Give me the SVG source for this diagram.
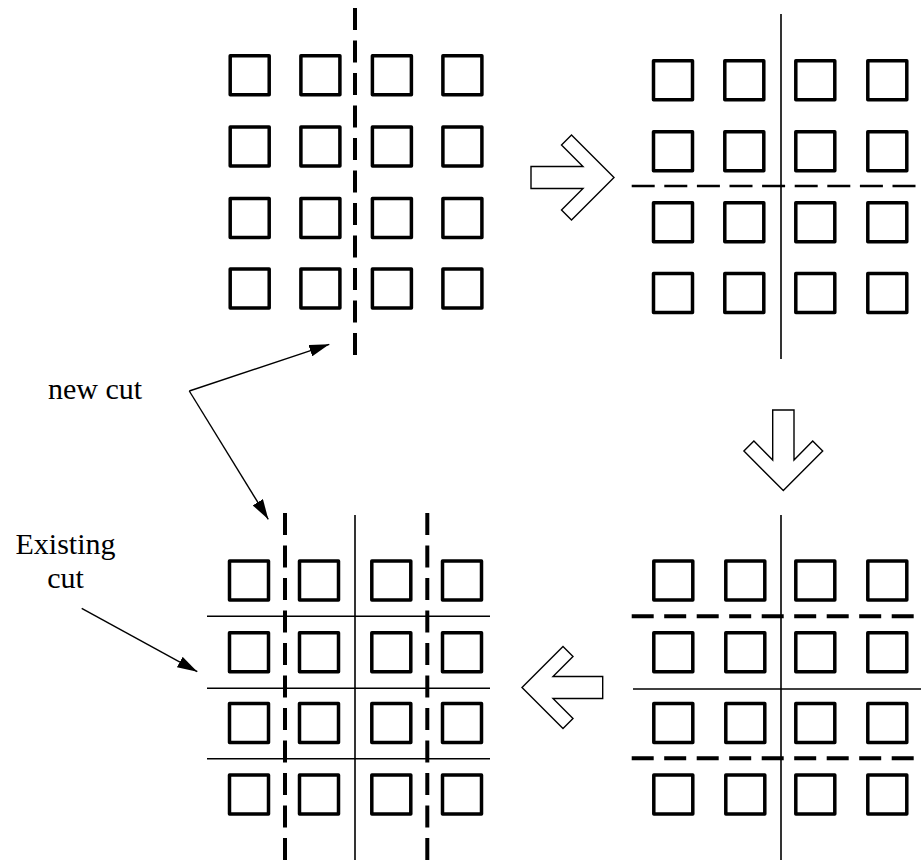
<svg xmlns="http://www.w3.org/2000/svg" xmlns:xlink="http://www.w3.org/1999/xlink" width="921" height="860" viewBox="0 0 921 860">
  <style>
    .pad { fill: none; stroke: #000; stroke-width: 3.5; stroke-linejoin: round; }
    .cut { stroke: #000; stroke-width: 1.6; fill: none; }
    .newcut { stroke: #000; stroke-width: 4; fill: none; stroke-dasharray: 22 10.5; }
    .thincut { stroke: #000; stroke-width: 2.6; fill: none; stroke-dasharray: 23 9.6; }
    .step { fill: #fff; stroke: #000; stroke-width: 1.4; stroke-linejoin: miter; }
    .leader { stroke: #000; stroke-width: 1.4; fill: none; }
    .label { font-family: "Liberation Serif", "Times New Roman", serif; font-size: 30px; fill: #000; }
  </style>
  <defs>
    <rect id="pad" class="pad" width="39" height="39"/>
    <marker id="head" viewBox="0 0 20 12" refX="20" refY="6" markerWidth="20" markerHeight="12" markerUnits="userSpaceOnUse" orient="auto">
      <path d="M0,0 L20,6 L0,12 Z" fill="#000"/>
    </marker>
  </defs>

  <!-- Step 1: first vertical cut through the 4x4 array -->
  <g id="step1">
    <use xlink:href="#pad" x="230.2" y="55.8"/>
    <use xlink:href="#pad" x="300.9" y="55.8"/>
    <use xlink:href="#pad" x="372.4" y="55.8"/>
    <use xlink:href="#pad" x="442.9" y="55.8"/>
    <use xlink:href="#pad" x="230.2" y="126.9"/>
    <use xlink:href="#pad" x="300.9" y="126.9"/>
    <use xlink:href="#pad" x="372.4" y="126.9"/>
    <use xlink:href="#pad" x="442.9" y="126.9"/>
    <use xlink:href="#pad" x="230.2" y="198.5"/>
    <use xlink:href="#pad" x="300.9" y="198.5"/>
    <use xlink:href="#pad" x="372.4" y="198.5"/>
    <use xlink:href="#pad" x="442.9" y="198.5"/>
    <use xlink:href="#pad" x="230.2" y="269.0"/>
    <use xlink:href="#pad" x="300.9" y="269.0"/>
    <use xlink:href="#pad" x="372.4" y="269.0"/>
    <use xlink:href="#pad" x="442.9" y="269.0"/>
    <line class="newcut" x1="355" y1="8" x2="355" y2="356"/>
  </g>

  <!-- Step 2: vertical cut made, horizontal cut added -->
  <g id="step2">
    <use xlink:href="#pad" x="653.5" y="60.8"/>
    <use xlink:href="#pad" x="724.8" y="60.8"/>
    <use xlink:href="#pad" x="795.8" y="60.8"/>
    <use xlink:href="#pad" x="867.8" y="60.8"/>
    <use xlink:href="#pad" x="653.5" y="131.8"/>
    <use xlink:href="#pad" x="724.8" y="131.8"/>
    <use xlink:href="#pad" x="795.8" y="131.8"/>
    <use xlink:href="#pad" x="867.8" y="131.8"/>
    <use xlink:href="#pad" x="653.5" y="202.8"/>
    <use xlink:href="#pad" x="724.8" y="202.8"/>
    <use xlink:href="#pad" x="795.8" y="202.8"/>
    <use xlink:href="#pad" x="867.8" y="202.8"/>
    <use xlink:href="#pad" x="653.5" y="273.5"/>
    <use xlink:href="#pad" x="724.8" y="273.5"/>
    <use xlink:href="#pad" x="795.8" y="273.5"/>
    <use xlink:href="#pad" x="867.8" y="273.5"/>
    <line class="cut" x1="781" y1="14" x2="781" y2="359"/>
    <line class="thincut" x1="631.7" y1="186" x2="916" y2="186"/>
  </g>

  <!-- Step 3: two more horizontal cuts -->
  <g id="step3">
    <use xlink:href="#pad" x="653.8" y="561"/>
    <use xlink:href="#pad" x="725.8" y="561"/>
    <use xlink:href="#pad" x="795.8" y="561"/>
    <use xlink:href="#pad" x="867.8" y="561"/>
    <use xlink:href="#pad" x="653.8" y="632.8"/>
    <use xlink:href="#pad" x="725.8" y="632.8"/>
    <use xlink:href="#pad" x="795.8" y="632.8"/>
    <use xlink:href="#pad" x="867.8" y="632.8"/>
    <use xlink:href="#pad" x="653.8" y="703.5"/>
    <use xlink:href="#pad" x="725.8" y="703.5"/>
    <use xlink:href="#pad" x="795.8" y="703.5"/>
    <use xlink:href="#pad" x="867.8" y="703.5"/>
    <use xlink:href="#pad" x="653.8" y="775"/>
    <use xlink:href="#pad" x="725.8" y="775"/>
    <use xlink:href="#pad" x="795.8" y="775"/>
    <use xlink:href="#pad" x="867.8" y="775"/>
    <line class="cut" x1="781" y1="515" x2="781" y2="860"/>
    <line class="cut" x1="633" y1="689" x2="921" y2="689"/>
    <line class="newcut" x1="631.7" y1="616.3" x2="916" y2="616.3"/>
    <line class="newcut" x1="631.7" y1="758.3" x2="916" y2="758.3"/>
  </g>

  <!-- Step 4: final two vertical cuts -->
  <g id="step4">
    <use xlink:href="#pad" x="229.5" y="561"/>
    <use xlink:href="#pad" x="299.5" y="561"/>
    <use xlink:href="#pad" x="371.8" y="561"/>
    <use xlink:href="#pad" x="442.5" y="561"/>
    <use xlink:href="#pad" x="229.5" y="632.8"/>
    <use xlink:href="#pad" x="299.5" y="632.8"/>
    <use xlink:href="#pad" x="371.8" y="632.8"/>
    <use xlink:href="#pad" x="442.5" y="632.8"/>
    <use xlink:href="#pad" x="229.5" y="703.5"/>
    <use xlink:href="#pad" x="299.5" y="703.5"/>
    <use xlink:href="#pad" x="371.8" y="703.5"/>
    <use xlink:href="#pad" x="442.5" y="703.5"/>
    <use xlink:href="#pad" x="229.5" y="775"/>
    <use xlink:href="#pad" x="299.5" y="775"/>
    <use xlink:href="#pad" x="371.8" y="775"/>
    <use xlink:href="#pad" x="442.5" y="775"/>
    <line class="cut" x1="355" y1="515" x2="355" y2="860"/>
    <line class="cut" x1="207" y1="616.3" x2="490" y2="616.3"/>
    <line class="cut" x1="207" y1="688.3" x2="490" y2="688.3"/>
    <line class="cut" x1="207" y1="758.7" x2="490" y2="758.7"/>
    <line class="newcut" x1="285" y1="513" x2="285" y2="860"/>
    <line class="newcut" x1="427.3" y1="513" x2="427.3" y2="860"/>
  </g>

  <!-- Block arrows between steps -->
  <g id="flow">
    <path class="step" d="M531,166.5 H583 L561.5,145 L571.5,135 L614,177.5 L571.5,220 L561.5,210 L583,188.5 H531 Z"/>
    <path class="step" d="M772.7,410 H794 V460 L812.7,441 L822.7,451 L783.3,490.5 L743.9,451 L753.9,441 L772.7,460 Z"/>
    <path class="step" d="M602.7,676.5 H553 L573,656.5 L563,646.5 L522,687.5 L563,728.5 L573,718.5 L553,698.5 H602.7 Z"/>
  </g>

  <!-- Labels with leaders -->
  <g id="label-new-cut">
    <text class="label" x="48" y="398.5">new cut</text>
    <line class="leader" x1="189.3" y1="391" x2="329.3" y2="344.3" marker-end="url(#head)"/>
    <line class="leader" x1="189.3" y1="391" x2="268.3" y2="519.3" marker-end="url(#head)"/>
  </g>
  <g id="label-existing-cut">
    <text class="label" x="65.5" y="553.5" text-anchor="middle">Existing</text>
    <text class="label" x="65.5" y="588.3" text-anchor="middle">cut</text>
    <line class="leader" x1="81.7" y1="608.3" x2="197.3" y2="671.7" marker-end="url(#head)"/>
  </g>
</svg>
